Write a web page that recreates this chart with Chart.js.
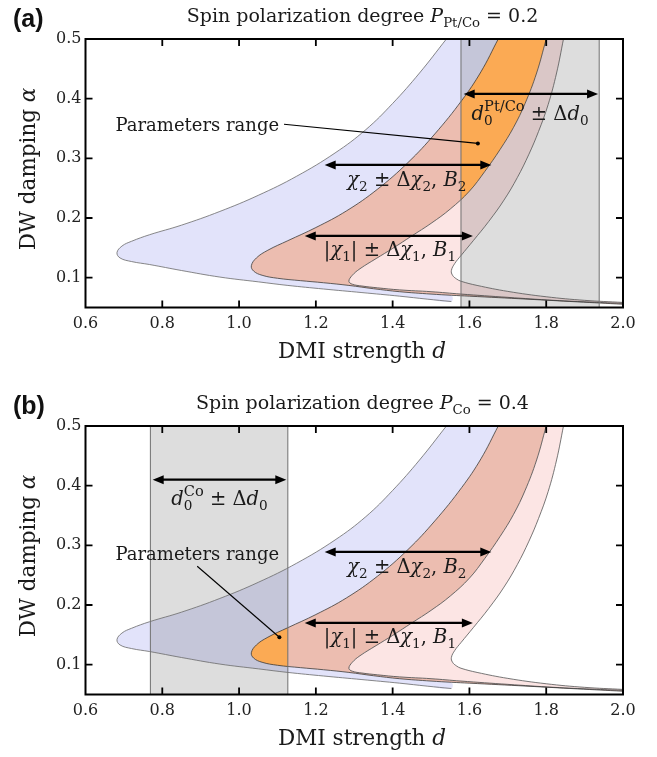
<!DOCTYPE html>
<html>
<head>
<meta charset="utf-8">
<script src="https://cdn.jsdelivr.net/npm/chart.js@4.4.0/dist/chart.umd.min.js"></script>
<style>
  body { margin: 0; background: #fff; }
  .panel { position: absolute; left: 0; width: 657px; height: 370px; }
</style>
</head>
<body>
<div class="panel" style="top:0"><canvas id="chartA"></canvas></div>
<div class="panel" style="top:387px"><canvas id="chartB"></canvas></div>
<script>
// axis ticks
const xTicks = [0.6, 0.8, 1.0, 1.2, 1.4, 1.6, 1.8, 2.0];
const yTicks = [0.1, 0.2, 0.3, 0.4, 0.5];

// boundary curves (DMI d, damping alpha): top of upper branch -> nose -> end of lower branch
const c1D = [1.54, 1.47, 1.40, 1.33, 1.25, 1.15, 1.05, 0.95, 0.85, 0.767, 0.72, 0.695, 0.682, 0.69, 0.72, 0.767, 0.85, 0.95, 1.05, 1.127, 1.22, 1.32, 1.418, 1.49, 1.553];
const c1A = [0.50, 0.443, 0.392, 0.348, 0.309, 0.270, 0.238, 0.211, 0.188, 0.172, 0.161, 0.153, 0.142, 0.133, 0.127, 0.122, 0.112, 0.101, 0.093, 0.087, 0.081, 0.075, 0.069, 0.064, 0.060];

const c2D = [1.675, 1.63, 1.58, 1.51, 1.44, 1.36, 1.28, 1.20, 1.127, 1.075, 1.045, 1.032, 1.038, 1.06, 1.10, 1.16, 1.22, 1.286, 1.35, 1.418, 1.50, 1.553, 1.60, 1.75, 1.88, 2.0];
const c2A = [0.50, 0.445, 0.397, 0.341, 0.293, 0.248, 0.212, 0.184, 0.162, 0.146, 0.133, 0.120, 0.111, 0.104, 0.099, 0.095, 0.0915, 0.087, 0.0815, 0.0765, 0.0725, 0.0705, 0.069, 0.064, 0.0595, 0.0555];

const c3D = [1.80, 1.775, 1.745, 1.715, 1.68, 1.64, 1.60, 1.55, 1.50, 1.45, 1.40, 1.357, 1.315, 1.295, 1.286, 1.295, 1.32, 1.36, 1.418, 1.50, 1.578, 1.70, 1.82, 1.92, 2.0];
const c3A = [0.50, 0.443, 0.392, 0.352, 0.315, 0.278, 0.245, 0.215, 0.191, 0.170, 0.149, 0.132, 0.115, 0.104, 0.094, 0.089, 0.086, 0.083, 0.0795, 0.0765, 0.0725, 0.067, 0.062, 0.059, 0.057];

const c4D = [1.845, 1.827, 1.805, 1.78, 1.755, 1.725, 1.69, 1.65, 1.61, 1.578, 1.562, 1.553, 1.556, 1.566, 1.578, 1.62, 1.70, 1.80, 1.90, 2.0];
const c4A = [0.50, 0.443, 0.39, 0.345, 0.307, 0.268, 0.230, 0.194, 0.162, 0.137, 0.124, 0.112, 0.104, 0.098, 0.094, 0.087, 0.077, 0.068, 0.062, 0.0585];

// d0 +- delta d0 ranges
const rangePtCo = [1.578, 1.938];
const rangeCo = [0.769, 1.127];

const BLUE = 'rgb(226,227,250)';
const RED = 'rgb(236,189,176)';
const PINK = 'rgb(252,229,228)';
const ORANGE = 'rgb(251,170,84)';
const SERIF = '"DejaVu Serif", serif';

const pts = (ds, as) => ds.map((d, i) => ({x: d, y: as[i]}));
const c1 = pts(c1D, c1A), c2 = pts(c2D, c2A), c3 = pts(c3D, c3A), c4 = pts(c4D, c4A);
const band = (outer, inner) => outer.concat(inner.slice().reverse());

const nose2 = c2D.indexOf(Math.min(...c2D));
const c1End = c1D[c1D.length - 1];
const blueBand = band(c1, c2.filter((p, i) => i <= nose2 || p.x <= c1End));
const redBand = band(c2, c3);
const pinkBand = band(c3, c4);

function rich(ctx, parts, x, y, size, align) {
  let w = 0;
  const items = parts.map(([t, s]) => {
    const small = s === 'sub' || s === 'sup' || s === 'sub0';
    const sz = s === 'sup' ? size * 0.75 : (small ? size * 0.7 : size);
    const font = (s === 'i' ? 'italic ' : '') + sz.toFixed(1) + 'px ' + SERIF;
    ctx.font = font;
    const tw = ctx.measureText(t).width;
    const dy = s === 'sup' ? -size * 0.45 : (small ? size * 0.25 : 0);
    const it = {t, font, dx: w, dy};
    if (s !== 'sub0') w += tw;
    return it;
  });
  const x0 = align === 'center' ? x - w / 2 : x;
  ctx.textAlign = 'left';
  ctx.textBaseline = 'alphabetic';
  items.forEach(it => { ctx.font = it.font; ctx.fillText(it.t, x0 + it.dx, y + it.dy); });
}

const chi2 = [['χ', 'i'], ['2', 'sub'], [' ± Δ', 'r'], ['χ', 'i'], ['2', 'sub'], [', ', 'r'], ['B', 'i'], ['2', 'sub']];
const chi1 = [['|', 'r'], ['χ', 'i'], ['1', 'sub'], ['| ± Δ', 'r'], ['χ', 'i'], ['1', 'sub'], [', ', 'r'], ['B', 'i'], ['1', 'sub']];

const panelA = {
  tag: '(a)',
  title: [['Spin polarization degree ', 'r'], ['P', 'i'], ['Pt/Co', 'sub'], [' = 0.2', 'r']],
  gray: rangePtCo, floor: 0.1,
  arrows: [
    {from: 1.585, to: 1.935, a: 0.408, at: 1.758, drop: 26,
     label: [['d', 'i'], ['0', 'sub0'], ['Pt/Co', 'sup'], [' ± Δ', 'r'], ['d', 'i'], ['0', 'sub']]},
    {from: 1.223, to: 1.657, a: 0.289, at: 1.437, drop: 21, label: chi2},
    {from: 1.171, to: 1.609, a: 0.170, at: 1.393, drop: 20, label: chi1}
  ],
  note: {x: 0.678, a: 0.346, from: [1.117, 0.357], to: [1.622, 0.325]}
};
const panelB = {
  tag: '(b)',
  title: [['Spin polarization degree ', 'r'], ['P', 'i'], ['Co', 'sub'], [' = 0.4', 'r']],
  gray: rangeCo, floor: 0.05,
  arrows: [
    {from: 0.775, to: 1.123, a: 0.410, at: 0.949, drop: 25,
     label: [['d', 'i'], ['0', 'sub0'], ['Co', 'sup'], [' ± Δ', 'r'], ['d', 'i'], ['0', 'sub']]},
    {from: 1.223, to: 1.657, a: 0.289, at: 1.437, drop: 21, label: chi2},
    {from: 1.171, to: 1.609, a: 0.170, at: 1.393, drop: 20, label: chi1}
  ],
  note: {x: 0.678, a: 0.275, from: [0.891, 0.265], to: [1.105, 0.146]}
};

function head(ctx, tx, ty, dir) {
  ctx.beginPath();
  ctx.moveTo(tx, ty);
  ctx.lineTo(tx + dir * 11, ty - 4.5);
  ctx.lineTo(tx + dir * 11, ty + 4.5);
  ctx.closePath();
  ctx.fill();
}

function decor(p) {
  return {
    id: 'decor',
    afterDatasetDraw(chart, args) {
      const ds = chart.data.datasets[args.index];
      const {ctx, chartArea: ca, scales: {x, y}} = chart;
      if (ds.clipStart) {
        const l = x.getPixelForValue(p.gray[0]), r = x.getPixelForValue(p.gray[1]);
        const b = y.getPixelForValue(p.floor);
        ctx.save();
        ctx.beginPath();
        ctx.rect(l, ca.top, r - l, b - ca.top);
        ctx.clip();
      }
      if (ds.clipEnd) ctx.restore();
    },
    afterDatasetsDraw(chart) {
      const {ctx, chartArea: ca, scales: {x, y}} = chart;
      ctx.save();
      ctx.fillStyle = '#000';
      ctx.strokeStyle = '#000';
      // leader for "Parameters range"
      const n = p.note;
      ctx.lineWidth = 1.1;
      ctx.beginPath();
      ctx.moveTo(x.getPixelForValue(n.from[0]), y.getPixelForValue(n.from[1]));
      ctx.lineTo(x.getPixelForValue(n.to[0]), y.getPixelForValue(n.to[1]));
      ctx.stroke();
      ctx.beginPath();
      ctx.arc(x.getPixelForValue(n.to[0]), y.getPixelForValue(n.to[1]), 2, 0, Math.PI * 2);
      ctx.fill();
      ctx.fillStyle = '#1a1a1a';
      rich(ctx, [['Parameters range', 'r']], x.getPixelForValue(n.x), y.getPixelForValue(n.a), 18, 'left');
      // double arrows
      p.arrows.forEach(ar => {
        const y0 = y.getPixelForValue(ar.a);
        const x0 = x.getPixelForValue(ar.from), x1 = x.getPixelForValue(ar.to);
        ctx.fillStyle = '#000';
        ctx.lineWidth = 2.2;
        ctx.beginPath();
        ctx.moveTo(x0 + 8, y0);
        ctx.lineTo(x1 - 8, y0);
        ctx.stroke();
        head(ctx, x0, y0, 1);
        head(ctx, x1, y0, -1);
        ctx.fillStyle = '#1a1a1a';
        rich(ctx, ar.label, x.getPixelForValue(ar.at), y0 + ar.drop, 19.5, 'center');
      });
      // frame with inward ticks
      ctx.strokeStyle = '#000';
      ctx.lineWidth = 2;
      ctx.strokeRect(ca.left, ca.top, ca.right - ca.left, ca.bottom - ca.top);
      ctx.lineWidth = 1.8;
      ctx.beginPath();
      xTicks.slice(1, -1).forEach(v => {
        const px = x.getPixelForValue(v);
        ctx.moveTo(px, ca.bottom); ctx.lineTo(px, ca.bottom - 7);
        ctx.moveTo(px, ca.top); ctx.lineTo(px, ca.top + 7);
      });
      yTicks.filter(v => v < 0.5).forEach(v => {
        const py = y.getPixelForValue(v);
        ctx.moveTo(ca.left, py); ctx.lineTo(ca.left + 7, py);
        ctx.moveTo(ca.right, py); ctx.lineTo(ca.right - 7, py);
      });
      ctx.stroke();
      ctx.restore();
    },
    afterDraw(chart) {
      const ctx = chart.ctx;
      ctx.save();
      ctx.fillStyle = '#1a1a1a';
      rich(ctx, p.title, 362.5, 22, 19, 'center');
      rich(ctx, [['DMI strength ', 'r'], ['d', 'i']], 362, 358, 21.5, 'center');
      ctx.save();
      ctx.translate(35, 169);
      ctx.rotate(-Math.PI / 2);
      rich(ctx, [['DW damping ', 'r'], ['α', 'i']], 0, 0, 21.5, 'center');
      ctx.restore();
      ctx.fillStyle = '#111';
      ctx.textAlign = 'left';
      ctx.font = 'bold 25px "Liberation Sans", Arial, sans-serif';
      ctx.fillText(p.tag, 13, 27);
      ctx.restore();
    }
  };
}

function makeChart(id, p) {
  const g = p.gray;
  const fillSet = (data, color, order, extra) => Object.assign({
    data, backgroundColor: color, borderColor: 'transparent', borderWidth: 0, fill: 'shape', order
  }, extra || {});
  const curve = (data, color) => ({data, borderColor: color, borderWidth: 0.8, fill: false, order: 5});
  const edge = v => ({data: [{x: v, y: 0.05}, {x: v, y: 0.5}], borderColor: '#707070', borderWidth: 1, fill: false, tension: 0, order: 4});
  const rect = [{x: g[0], y: 0.05}, {x: g[0], y: 0.5}, {x: g[1], y: 0.5}, {x: g[1], y: 0.05}];

  new Chart(document.getElementById(id), {
    type: 'line',
    data: {
      datasets: [
        fillSet(blueBand, BLUE, 10),
        fillSet(redBand, RED, 9),
        fillSet(pinkBand, PINK, 8),
        fillSet(rect, 'rgba(64,64,64,0.18)', 7, {tension: 0, clipStart: true}),
        fillSet(redBand, ORANGE, 6, {clipEnd: true}),
        curve(c1, '#6a6a6a'),
        curve(c2, '#3a3a3a'),
        curve(c3, '#454545'),
        curve(c4, '#555555'),
        edge(g[0]),
        edge(g[1])
      ]
    },
    options: {
      responsive: true,
      maintainAspectRatio: false,
      animation: false,
      events: [],
      layout: {padding: {top: 39, right: 34, bottom: 0, left: 0}},
      elements: {point: {radius: 0}, line: {tension: 0.4}},
      plugins: {legend: {display: false}, tooltip: {enabled: false}},
      scales: {
        x: {
          type: 'linear', min: 0.6, max: 2.0,
          afterBuildTicks: s => { s.ticks = xTicks.map(v => ({value: v})); },
          afterFit: s => { s.height = 62.5; },
          grid: {display: false, drawTicks: false},
          border: {display: false},
          ticks: {autoSkip: false, maxRotation: 0, padding: 7, color: '#222',
                  font: {family: 'DejaVu Serif', size: 16},
                  callback: v => v.toFixed(1)}
        },
        y: {
          type: 'linear', min: 0.05, max: 0.5,
          afterBuildTicks: s => { s.ticks = yTicks.map(v => ({value: v})); },
          afterFit: s => { s.width = 85.5; },
          grid: {display: false, drawTicks: false},
          border: {display: false},
          ticks: {autoSkip: false, padding: 4, color: '#222',
                  font: {family: 'DejaVu Serif', size: 16},
                  callback: v => v.toFixed(1)}
        }
      }
    },
    plugins: [decor(p)]
  });
}

makeChart('chartA', panelA);
makeChart('chartB', panelB);
</script>
</body>
</html>
